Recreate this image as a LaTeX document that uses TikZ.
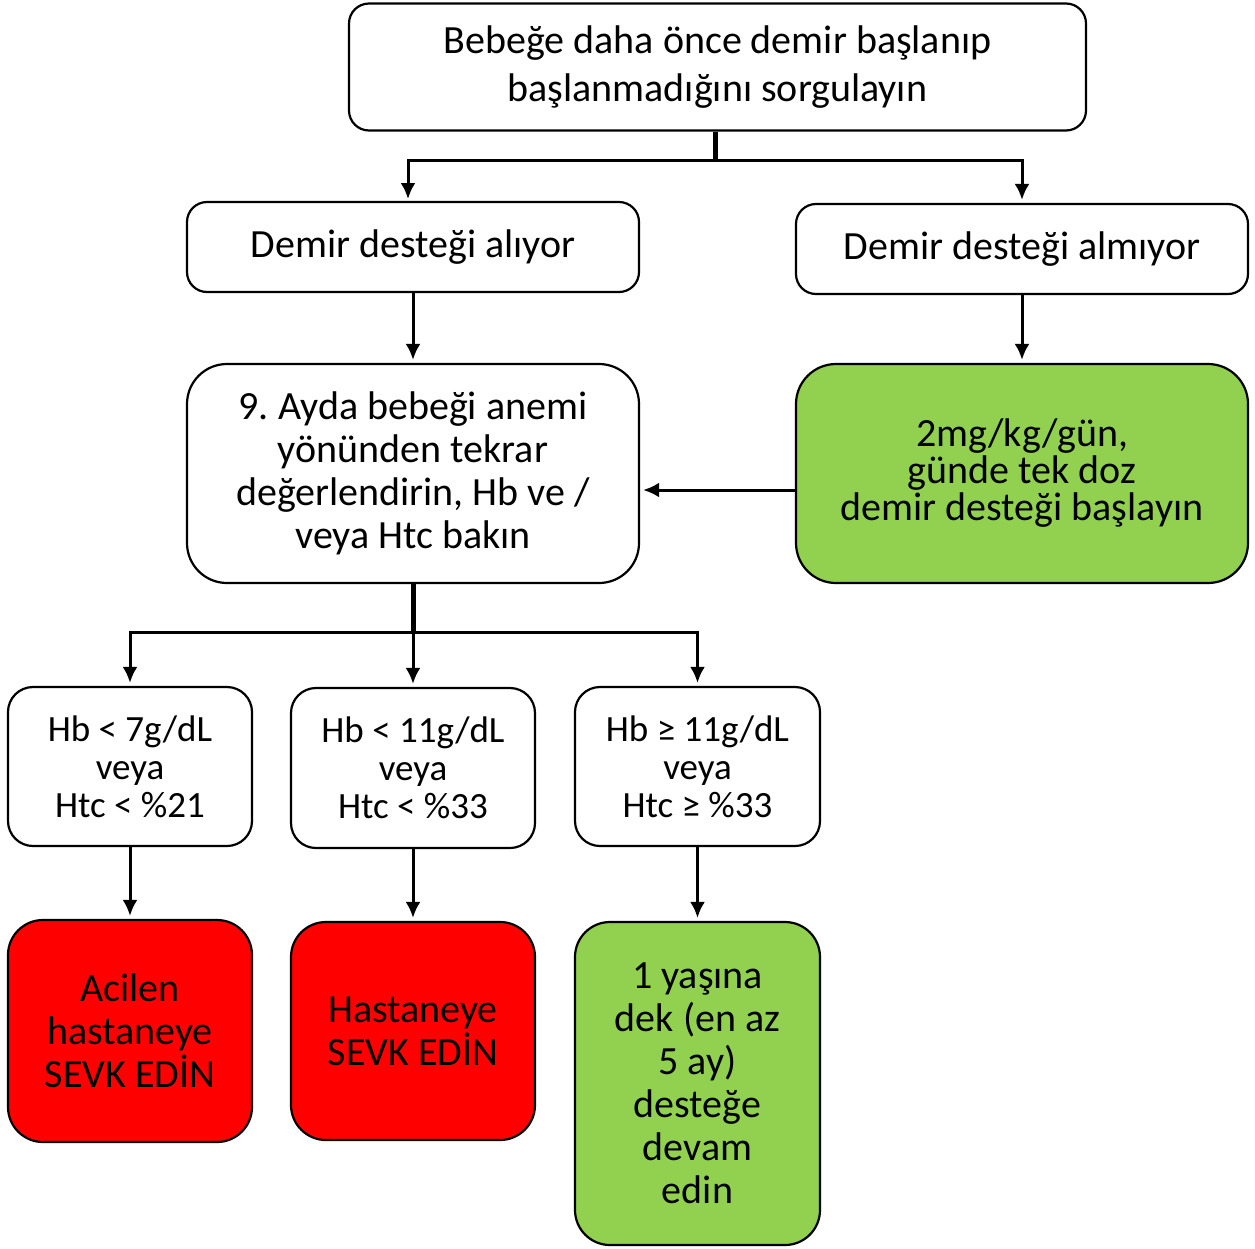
\documentclass[tikz,border=0pt]{standalone}
\usepackage{fontspec}
\setmainfont{Carlito}
\usetikzlibrary{arrows.meta}

\definecolor{yesil}{HTML}{92D050}
\definecolor{kirmizi}{HTML}{FF0000}

\begin{document}
\begin{tikzpicture}[x=1pt, y=-1pt, >={Latex[length=16pt,width=15pt]},
    kutu/.style={draw, line width=2.2pt, rounded corners=20pt, align=center, inner sep=0pt,
        font=\fontsize{40}{43}\selectfont},
    ok/.style={->, line width=3pt, shorten >=3pt},
    govde/.style={line width=5pt}]
    \useasboundingbox (0,0) rectangle (1255,1248);
    % ust kisim
    \node (q) [kutu, minimum width=737pt, minimum height=127pt,
        font=\fontsize{40}{48}\selectfont] at (717.5,67)
        {Bebeğe daha önce demir başlanıp\\ başlanmadığını sorgulayın};
    \node (alir) [kutu, minimum width=452pt, minimum height=90pt] at (413,247)
        {Demir desteği alıyor};
    \node (almaz) [kutu, minimum width=452pt, minimum height=90pt] at (1022,249)
        {Demir desteği almıyor};
    \node (kontrol) [kutu, rounded corners=40pt, minimum width=452pt, minimum height=219pt] at (413,473.5)
        {9.\ Ayda bebeği anemi\\ yönünden tekrar\\ değerlendirin, Hb ve /\\ veya Htc bakın};
    \node (baslat) [kutu, rounded corners=40pt, fill=yesil, minimum width=452pt, minimum height=219pt,
        font=\fontsize{40}{37}\selectfont] at (1022,473.5)
        {2mg/kg/gün,\\ günde tek doz\\ demir desteği başlayın};
    % hb kutulari
    \node (hb1) [kutu, rounded corners=25pt, minimum width=244pt, minimum height=159pt,
        font=\fontsize{37}{38}\selectfont] at (130,766.5)
        {Hb < 7g/dL\\ veya\\ Htc < \%21};
    \node (hb2) [kutu, rounded corners=25pt, minimum width=244pt, minimum height=160pt,
        font=\fontsize{37}{38}\selectfont] at (413,768)
        {Hb < 11g/dL\\ veya\\ Htc < \%33};
    \node (hb3) [kutu, rounded corners=25pt, minimum width=245pt, minimum height=159pt,
        font=\fontsize{37}{38}\selectfont] at (697.5,766.5)
        {Hb ≥ 11g/dL\\ veya\\ Htc ≥ \%33};
    % sonuclar
    \node (sevk1) [kutu, rounded corners=35pt, fill=kirmizi, minimum width=244pt, minimum height=222pt] at (130,1031)
        {Acilen\\ hastaneye\\ SEVK EDİN};
    \node (sevk2) [kutu, rounded corners=35pt, fill=kirmizi, minimum width=244pt, minimum height=218pt] at (413,1031)
        {Hastaneye\\ SEVK EDİN};
    \node (devam) [kutu, rounded corners=35pt, fill=yesil, minimum width=245pt, minimum height=323pt] at (697.5,1083.5)
        {1 yaşına\\ dek (en az\\ 5 ay)\\ desteğe\\ devam\\ edin};
    % baglantilar
    \coordinate (j1) at (715,160);
    \coordinate (j2) at (413,632);
    \draw[govde] (q.south -| j1) -- (j1);
    \draw[ok] (j1) -| (408,202);
    \draw[ok] (j1) -| (almaz.north);
    \draw[ok] (alir) -- (kontrol);
    \draw[ok] (almaz) -- (baslat);
    \draw[ok] ([yshift=-16.5pt]baslat.west) -- ([yshift=-16.5pt]kontrol.east);
    \draw[govde] (kontrol.south) -- (j2);
    \draw[ok] (j2) -| (hb1.north);
    \draw[ok] (j2) -- (hb2);
    \draw[ok] (j2) -| (hb3.north);
    \draw[ok] (hb1) -- (sevk1);
    \draw[ok] (hb2) -- (sevk2);
    \draw[ok] (hb3) -- (devam);
\end{tikzpicture}
\end{document}
